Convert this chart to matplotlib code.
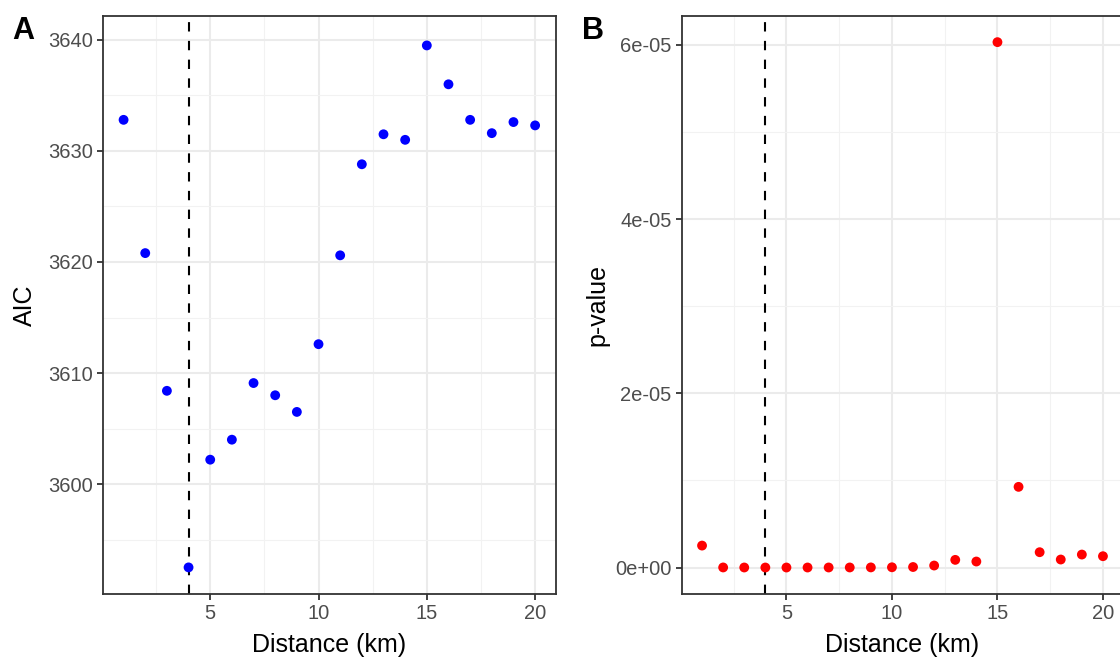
import matplotlib
matplotlib.use("Agg")
import matplotlib.pyplot as plt
from matplotlib.ticker import MultipleLocator, FixedLocator

plt.rcParams['font.family'] = ['Liberation Sans', 'DejaVu Sans']

distance = list(range(1, 21))
aic = [3632.8, 3620.8, 3608.4, 3592.5, 3602.2, 3604.0, 3609.1, 3608.0, 3606.5, 3612.6,
       3620.6, 3628.8, 3631.5, 3631.0, 3639.5, 3636.0, 3632.8, 3631.6, 3632.6, 3632.3]
pvalue = [2.52e-6, 1e-8, 5e-9, 2e-9, 3e-9, 4e-9, 6e-9, 8e-9, 1.5e-8, 3e-8,
          6e-8, 2.3e-7, 8.8e-7, 6.9e-7, 6.03e-5, 9.26e-6, 1.76e-6, 9.2e-7, 1.49e-6, 1.3e-6]
best_distance = 4
x_ticks = [5, 10, 15, 20]
aic_ticks = [3600, 3610, 3620, 3630, 3640]
p_ticks = [0, 2e-5, 4e-5, 6e-5]
p_tick_labels = ["0e+00", "2e-05", "4e-05", "6e-05"]

W, H = 1120, 657
fig = plt.figure(figsize=(W / 100, H / 100), dpi=100)

def make_ax(left_px, right_px):
    top_px, bot_px = 16, 593.5
    return fig.add_axes([left_px / W, 1 - bot_px / H, (right_px - left_px) / W, (bot_px - top_px) / H])

def style(ax):
    ax.set_facecolor("white")
    ax.set_axisbelow(True)
    ax.grid(which="major", color="#EBEBEB", linewidth=1.5)
    ax.grid(which="minor", color="#F2F2F2", linewidth=0.8)
    for s in ax.spines.values():
        s.set_color("#333333")
        s.set_linewidth(1.3)
    ax.tick_params(which="major", length=4.5, width=1.3, color="#333333",
                   labelsize=14.5, labelcolor="#4D4D4D", pad=3)
    ax.tick_params(which="minor", length=0)
    ax.xaxis.set_major_locator(FixedLocator(x_ticks))
    ax.xaxis.set_minor_locator(MultipleLocator(2.5))
    ax.set_xlim(0.05, 20.95)

def xlabel(cx):
    fig.text(cx / W, 1 - 645 / H, "Distance (km)", fontsize=18, ha="center", va="center")

def ylabel(cx, txt):
    fig.text(cx / W, 1 - 305 / H, txt, fontsize=18, rotation=90, ha="center", va="center")

# Panel A
axA = make_ax(103, 555.7)
style(axA)
axA.scatter(distance, aic, s=50, color="#0000FF", edgecolors="none", zorder=3)
axA.axvline(best_distance, color="black", linestyle=(0, (4.5, 4.5)), linewidth=1.5, zorder=2)
axA.set_ylim(3590.15, 3642.15)
axA.yaxis.set_major_locator(FixedLocator(aic_ticks))
axA.yaxis.set_minor_locator(MultipleLocator(5))
xlabel(329.5)
ylabel(25, "AIC")
fig.text(23.5 / W, 1 - 31 / H, "A", fontsize=22, fontweight="bold", ha="center", va="center")

# Panel B
axB = make_ax(682, 1123)
style(axB)
axB.scatter(distance, pvalue, s=50, color="#FF0000", edgecolors="none", zorder=3)
axB.axvline(best_distance, color="black", linestyle=(0, (4.5, 4.5)), linewidth=1.5, zorder=2)
axB.set_ylim(-2.98e-6, 6.33e-5)
axB.yaxis.set_major_locator(FixedLocator(p_ticks))
axB.set_yticklabels(p_tick_labels)
axB.yaxis.set_minor_locator(FixedLocator([1e-5, 3e-5, 5e-5]))
xlabel(902.5)
ylabel(597, "p-value")
fig.text(592.5 / W, 1 - 31 / H, "B", fontsize=22, fontweight="bold", ha="center", va="center")

fig.savefig("out.png", dpi=100)
